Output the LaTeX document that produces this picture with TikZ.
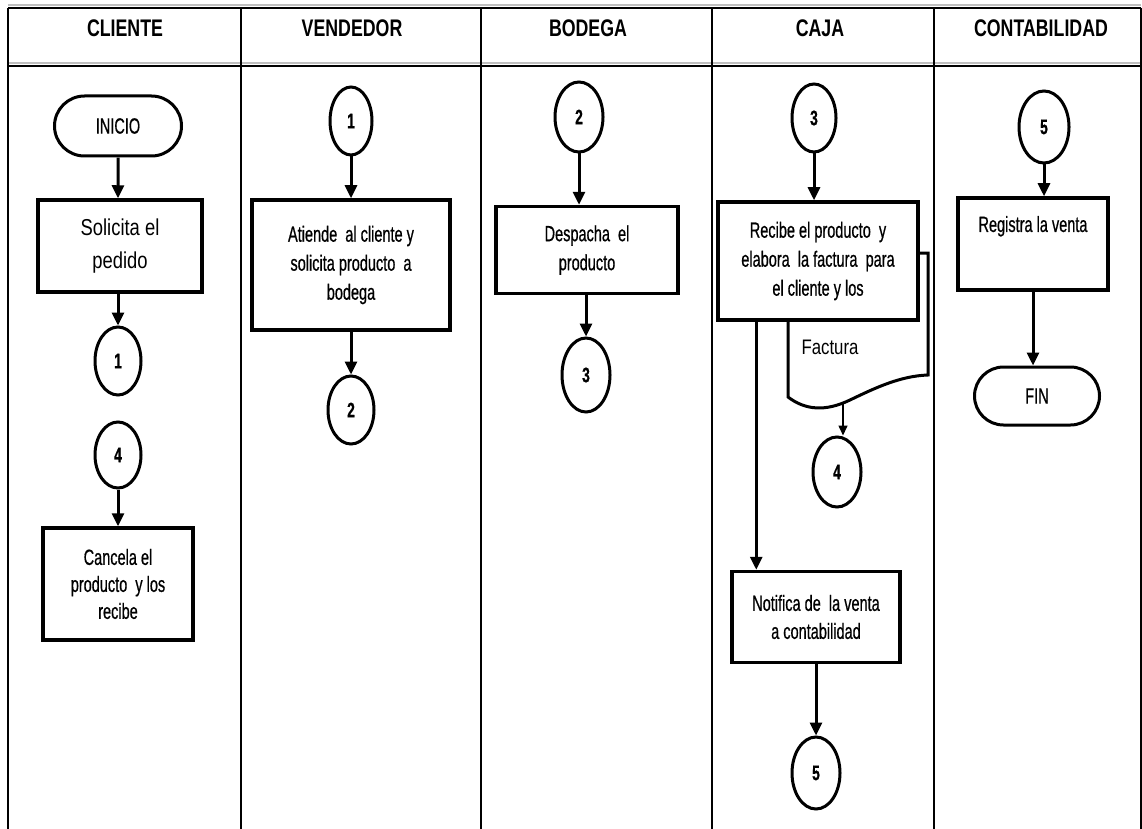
\documentclass[tikz,border=0pt]{standalone}
\usepackage{fontspec}
\setmainfont{Liberation Sans}
\newfontfamily\narrowfont[FakeStretch=0.66,FakeBold=0.6]{Liberation Sans}
\newfontfamily\plainfont[FakeStretch=0.8]{Liberation Sans}
\newfontfamily\headfont[FakeStretch=0.74]{Liberation Sans}
\usetikzlibrary{shapes.geometric,shapes.misc,arrows.meta,positioning}

\begin{document}
\begin{tikzpicture}[x=1pt,y=-1pt,
    lane/.style={line width=1.5pt},
    lanetitle/.style={font=\headfont\bfseries\fontsize{24}{28}\selectfont},
    proc/.style={draw, line width=3.5pt, fill=white, inner sep=0pt, align=center,
        font=\narrowfont\fontsize{22}{29}\selectfont},
    conn/.style={draw, ellipse, line width=3pt, fill=white, inner sep=0pt,
        minimum width=46pt, minimum height=68pt, font=\narrowfont\bfseries\fontsize{21}{24}\selectfont},
    term/.style={draw, rounded rectangle, line width=3pt, fill=white, inner sep=0pt,
        font=\narrowfont\fontsize{22}{24}\selectfont},
    txt/.style={align=center, inner sep=0pt, font=\narrowfont\fontsize{22}{29}\selectfont},
    flow/.style={-{Triangle[width=12pt,length=13pt]}, line width=3pt},
    thinflow/.style={-{Triangle[width=9pt,length=10pt]}, line width=1.5pt}]
    \useasboundingbox (0,0) rectangle (1142,829);

    % Lanes
    \draw[lane, gray!50] (8,5) -- (1141,5);
    \draw[lane, gray!50] (8,63) -- (1141,63);
    \draw[lane] (8,8) -- (1141,8);
    \draw[lane] (8,66) -- (1141,66);
    \foreach \xl in {8,241,481,712,934,1141}
        \draw[lane] (\xl,8) -- (\xl,829);
    \foreach \xc/\name in {125/CLIENTE, 352/VENDEDOR, 588/BODEGA, 820/CAJA, 1041/CONTABILIDAD}
        \node[lanetitle] (h-\name) at (\xc,28) {\name};

    % CLIENTE
    \node[term, minimum width=127pt, minimum height=60pt] (inicio) at (118,126) {INICIO};
    \node[proc, minimum width=164pt, minimum height=92pt,
        font=\plainfont\fontsize{23}{33}\selectfont] (solicita) at (120,246) {Solicita el\\pedido};
    \node[conn] (c1a) at (118,361) {1};
    \node[conn, minimum height=66pt] (c4a) at (118,455) {4};
    \node[proc, minimum width=150pt, minimum height=112pt,
        font=\narrowfont\fontsize{22}{27}\selectfont] (cancela) at (118,584) {Cancela el\\producto\ \ y los\\recibe};
    \draw[flow] (inicio) -- (inicio |- solicita.north);
    \draw[flow] (solicita.south -| c1a) -- (c1a);
    \draw[flow] (c4a) -- (cancela);

    % VENDEDOR
    \node[conn, minimum width=42pt] (c1b) at (351,121) {1};
    \node[proc, minimum width=198pt, minimum height=130pt] (atiende) at (351,265)
        {Atiende\ \ al cliente y\\solicita producto\ \ a\\bodega};
    \node[conn] (c2b) at (351,410) {2};
    \draw[flow] (c1b) -- (atiende);
    \draw[flow] (atiende) -- (c2b);

    % BODEGA
    \node[conn, minimum width=48pt, minimum height=70pt] (c2c) at (579,117) {2};
    \node[proc, minimum width=182pt, minimum height=87pt] (despacha) at (587,250)
        {Despacha\ \ el\\producto};
    \node[conn, minimum width=48pt, minimum height=74pt] (c3c) at (586,375) {3};
    \draw[flow] (c2c) -- (c2c |- despacha.north);
    \draw[flow] (despacha.south -| c3c) -- (c3c);

    % CAJA
    \node[conn, minimum width=44pt] (c3d) at (814,118) {3};
    \draw[line width=3pt, fill=white] (788,253) -- (928,253) -- (928,375)
        .. controls (900,376) and (875,388) .. (850,400)
        .. controls (825,412) and (805,410) .. (788,397) -- cycle;
    \node[txt, font=\plainfont\fontsize{21}{24}\selectfont] (factura) at (830,347) {Factura};
    \coordinate (fact-out) at (843,403);
    \node[proc, minimum width=200pt, minimum height=118pt] (recibe) at (818,261)
        {Recibe el producto\ \ y\\elabora\ \ la factura\ \ para\\el cliente y los};
    \node[conn, minimum width=48pt, minimum height=70pt] (c4d) at (837,472) {4};
    \node[proc, minimum width=168pt, minimum height=91pt,
        font=\narrowfont\fontsize{22}{28}\selectfont] (notifica) at (816,617)
        {Notifica de\ \ la venta\\a contabilidad};
    \node[conn, minimum width=48pt, minimum height=72pt] (c5d) at (816,773) {5};
    \draw[flow] (c3d) -- (c3d |- recibe.north);
    \draw[thinflow] (fact-out) -- (fact-out |- c4d.north);
    \draw[flow] ([xshift=40pt]recibe.south west) -- ([xshift=26pt]notifica.north west);
    \draw[flow] (notifica) -- (c5d);

    % CONTABILIDAD
    \node[conn, minimum width=50pt, minimum height=72pt] (c5e) at (1044,127) {5};
    \node[proc, minimum width=150pt, minimum height=92pt] (registra) at (1033,244) {};
    \node[txt] (registra-t) at ([yshift=-30pt]registra.north) {Registra la venta};
    \node[term, minimum width=125pt, minimum height=58pt] (fin) at (1037,396) {FIN};
    \draw[flow] (c5e) -- (c5e |- registra.north);
    \draw[flow] (registra.south) -- (registra.south |- fin.north);
\end{tikzpicture}
\end{document}
